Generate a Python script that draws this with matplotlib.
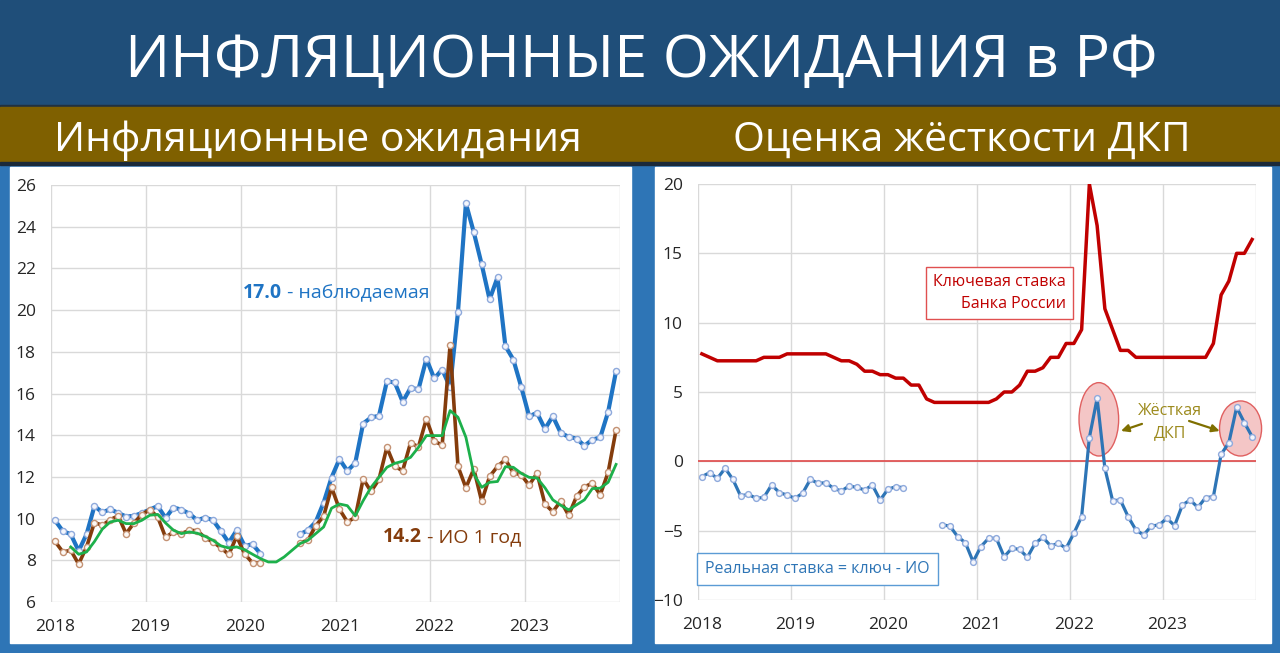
import matplotlib
matplotlib.use('Agg')
import matplotlib.pyplot as plt
from matplotlib.patches import Rectangle, Ellipse
import numpy as np

plt.rcParams['font.family'] = ['Open Sans', 'DejaVu Sans']

nan = np.nan

# monthly data, Jan 2018 .. Dec 2023
months = np.arange(72)
x_dates = 2018 + (months + 0.5) / 12
years = [2018, 2019, 2020, 2021, 2022, 2023, 2024]
year_labels = ['2018', '2019', '2020', '2021', '2022', '2023']

# observed inflation (InFOM), %
observed = [
    9.92, 9.4, 9.25, 8.45, 9.25, 10.6, 10.3, 10.45, 10.27, 10.1, 10.13, 10.27,
    10.43, 10.6, 10.03, 10.53, 10.43, 10.24, 9.92, 10.05, 9.92, 9.4, 8.85, 9.44,
    8.69, 8.77, 8.32, nan, nan, nan, nan, 9.25, 9.44, 9.84, 10.77, 11.97,
    12.85, 12.29, 12.67, 14.56, 14.85, 14.93, 16.58, 16.53, 15.6, 16.27, 16.2, 17.66,
    16.72, 17.15, 16.3, 19.92, 25.12, 23.73, 22.19, 20.51, 21.57, 18.27, 17.63, 16.32,
    14.91, 15.07, 14.3, 14.91, 14.11, 13.92, 13.84, 13.49, 13.79, 13.89, 15.12, 17.07,
]

# inflation expectations 1 year ahead, %
expect_1y = [
    8.91, 8.4, 8.48, 7.82, 8.64, 9.81, 9.68, 9.95, 10.13, 9.28, 9.79, 10.19,
    10.43, 10.08, 9.1, 9.36, 9.28, 9.44, 9.42, 9.08, 8.88, 8.6, 8.28, 9.15,
    8.3, 7.88, 7.88, nan, nan, nan, nan, 8.85, 8.95, 9.66, 10.11, 11.5,
    10.45, 9.84, 10.06, 11.9, 11.3, 11.88, 13.42, 12.5, 12.3, 13.64, 13.44, 14.78,
    13.72, 13.52, 18.33, 12.5, 11.48, 12.38, 10.83, 12.02, 12.5, 12.84, 12.19, 12.1,
    11.6, 12.18, 10.7, 10.33, 10.84, 10.16, 11.06, 11.52, 11.7, 11.14, 12.22, 14.25,
]

# smoothed expectations
expect_smooth = [
    nan, nan, 8.64, 8.29, 8.4, 8.9, 9.5, 9.84, 9.92, 9.76, 9.76, 9.92,
    10.16, 10.2, 9.79, 9.44, 9.28, 9.36, 9.3, 9.15, 8.96, 8.69, 8.59, 8.64,
    8.51, 8.29, 8.08, 7.92, 7.92, 8.16, 8.48, 8.8, 8.96, 9.28, 9.6, 10.5,
    10.7, 10.62, 10.13, 10.86, 11.5, 11.98, 12.46, 12.65, 12.75, 12.94, 13.42, 13.98,
    13.98, 13.98, 15.18, 14.86, 13.9, 12.14, 11.5, 11.74, 11.78, 12.49, 12.46, 12.17,
    11.98, 11.95, 11.48, 10.9, 10.64, 10.42, 10.66, 10.9, 11.44, 11.46, 11.74, 12.6,
]

# Bank of Russia key rate, %
key_rate = [
    7.75, 7.5, 7.25, 7.25, 7.25, 7.25, 7.25, 7.25, 7.5, 7.5, 7.5, 7.75,
    7.75, 7.75, 7.75, 7.75, 7.75, 7.5, 7.25, 7.25, 7.0, 6.5, 6.5, 6.25,
    6.25, 6.0, 6.0, 5.5, 5.5, 4.5, 4.25, 4.25, 4.25, 4.25, 4.25, 4.25,
    4.25, 4.25, 4.5, 5.0, 5.0, 5.5, 6.5, 6.5, 6.75, 7.5, 7.5, 8.5,
    8.5, 9.5, 20.0, 17.0, 11.0, 9.5, 8.0, 8.0, 7.5, 7.5, 7.5, 7.5,
    7.5, 7.5, 7.5, 7.5, 7.5, 7.5, 8.5, 12.0, 13.0, 15.0, 15.0, 16.0,
]

# real rate = key rate - expectations
real_rate = [
    -1.1, -0.82, -1.23, -0.5, -1.3, -2.5, -2.38, -2.67, -2.6, -1.7, -2.26, -2.43,
    -2.67, -2.3, -1.3, -1.59, -1.54, -1.95, -2.14, -1.78, -1.88, -2.07, -1.71, -2.79,
    -2.02, -1.83, -1.9, nan, nan, nan, nan, -4.59, -4.66, -5.43, -5.87, -7.24,
    -6.15, -5.55, -5.55, -6.88, -6.27, -6.35, -6.92, -5.91, -5.48, -6.1, -5.91, -6.27,
    -5.19, -3.99, 1.71, 4.54, -0.5, -2.84, -2.79, -3.99, -4.95, -5.31, -4.66, -4.59,
    -4.11, -4.64, -3.15, -2.79, -3.32, -2.62, -2.55, 0.5, 1.35, 3.89, 2.79, 1.78,
]

left_yticks = [6, 8, 10, 12, 14, 16, 18, 20, 22, 24, 26]
right_yticks = [-10, -5, 0, 5, 10, 15, 20]

BLUE = '#1F74C4'
BROWN = '#843C0C'
GREEN = '#1DB04B'
RED = '#C00000'
GRID = '#D9D9D9'
TICK = '#262626'

fig = plt.figure(figsize=(12.8, 6.53), dpi=100)

# background, banners and panels
bg = fig.add_axes([0, 0, 1, 1])
bg.set_xlim(0, 1280)
bg.set_ylim(653, 0)
bg.axis('off')
bg.add_patch(Rectangle((0, 0), 1280, 653, color='#2E75B6'))
bg.add_patch(Rectangle((0, 0), 1280, 105, color='#1F4E79'))
bg.add_patch(Rectangle((0, 105), 1280, 2, color='#22313F'))
bg.add_patch(Rectangle((0, 107), 1280, 55, color='#7F6000'))
bg.add_patch(Rectangle((0, 162), 1280, 3, color='#1B2A3A'))
bg.add_patch(Rectangle((10, 167), 621, 476, color='white'))
bg.add_patch(Rectangle((655, 167), 616, 476, color='white'))
bg.text(641, 77, 'ИНФЛЯЦИОННЫЕ ОЖИДАНИЯ в РФ', color='white', fontsize=42.8,
        ha='center', va='baseline')
bg.text(318, 151, 'Инфляционные ожидания', color='white', fontsize=29.5,
        ha='center', va='baseline')
bg.text(962, 151, 'Оценка жёсткости ДКП', color='white', fontsize=29.5,
        ha='center', va='baseline')


def setup_axes(ax, yticks):
    ax.set_facecolor('none')
    for s in ax.spines.values():
        s.set_visible(False)
    ax.set_xlim(2018, 2024)
    ax.set_ylim(yticks[0], yticks[-1])
    ax.set_yticks(yticks)
    ax.set_xticks(years, minor=True)
    ax.set_xticks([y + 0.045 for y in years[:-1]])
    ax.set_xticklabels(year_labels)
    ax.grid(axis='y', color=GRID, lw=1)
    ax.grid(axis='x', which='minor', color=GRID, lw=1)
    ax.grid(axis='x', which='major', visible=False)
    ax.tick_params(which='both', length=0, labelsize=12.5, colors=TICK)
    ax.tick_params(axis='x', pad=12)
    ax.tick_params(axis='y', pad=11)
    ax.set_axisbelow(True)


# left chart: inflation expectations
ax1 = fig.add_axes([51 / 1280, 51 / 653, 569 / 1280, 417 / 653])
setup_axes(ax1, left_yticks)
ax1.plot(x_dates, observed, color=BLUE, lw=3.0, marker='o', ms=4.4,
         mfc='#F4F6FC', mec='#8FAADC', mew=1.0, zorder=3)
ax1.plot(x_dates, expect_1y, color=BROWN, lw=2.6, marker='o', ms=4.4,
         mfc='#FDF8F4', mec='#C49274', mew=1.0, zorder=4)
ax1.plot(x_dates, expect_smooth, color=GREEN, lw=2.0, zorder=5)

t1 = ax1.text(2020.02, 20.6, '17.0', color=BLUE, fontsize=14, fontweight='bold',
              va='baseline')
ax1.annotate(' - наблюдаемая', xy=(1, 0), xycoords=t1, color=BLUE, fontsize=14,
             va='bottom')
t2 = ax1.text(2021.5, 8.9, '14.2', color=BROWN, fontsize=14, fontweight='bold',
              va='baseline')
ax1.annotate(' - ИО 1 год', xy=(1, 0), xycoords=t2, color=BROWN, fontsize=14,
             va='bottom')

# right chart: policy tightness
ax2 = fig.add_axes([698 / 1280, 53 / 653, 558 / 1280, 416 / 653])
setup_axes(ax2, right_yticks)
ax2.axhline(0, color='#E04848', lw=1.2, zorder=2)
ax2.add_patch(Ellipse((2022.31, 3.03), 0.426, 5.29, facecolor='#F4C6C6',
                      edgecolor='#E06060', lw=1.0, zorder=2))
ax2.add_patch(Ellipse((2023.834, 2.37), 0.452, 3.97, facecolor='#F4C6C6',
                      edgecolor='#E06060', lw=1.0, zorder=2, clip_on=False))
ax2.plot(x_dates, key_rate, color=RED, lw=2.5, zorder=3)
ax2.plot(x_dates, real_rate, color='#2E75B6', lw=2.3, marker='o', ms=4.2,
         mfc='#F4F6FC', mec='#8FAADC', mew=1.0, zorder=4)

ax2.text(2021.24, 12.14, 'Ключевая ставка\nБанка России', color=RED, fontsize=11.5,
         ha='center', va='center', multialignment='right', linespacing=1.45,
         bbox=dict(boxstyle='square,pad=0.45', fc='white', ec='#E05050', lw=1))
ax2.text(2019.285, -7.79, 'Реальная ставка = ключ - ИО', color='#2E75B6',
         fontsize=11.5, ha='center', va='center',
         bbox=dict(boxstyle='square,pad=0.5', fc='white', ec='#5B9BD5', lw=1))
ax2.text(2023.075, 2.84, 'Жёсткая\nДКП', color='#9C8A1C', fontsize=11.5,
         ha='center', va='center', linespacing=1.5)
arrow = dict(arrowstyle='-|>,head_length=0.45,head_width=0.22', color='#7F6F00',
             lw=1.6, shrinkA=0, shrinkB=0)
ax2.annotate('', xy=(2022.548, 2.19), xytext=(2022.774, 2.70), arrowprops=arrow)
ax2.annotate('', xy=(2023.61, 2.19), xytext=(2023.28, 2.91), arrowprops=arrow)

fig.savefig('out.png', dpi=100)
